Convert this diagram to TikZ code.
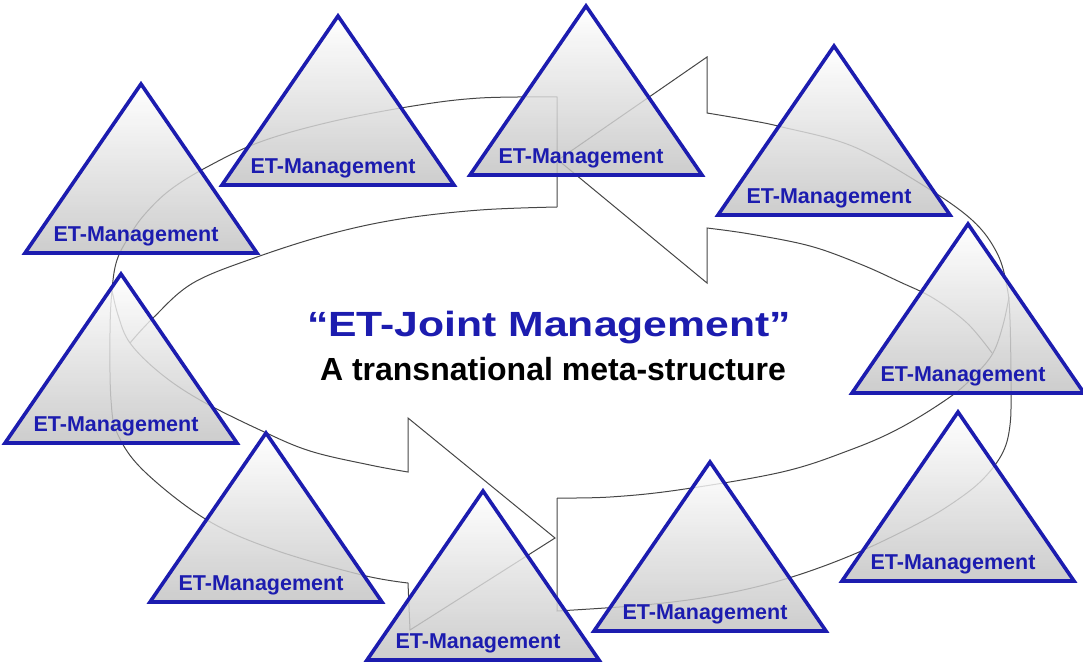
\documentclass[tikz,border=0pt]{standalone}
\usepackage{fontspec}
\usepackage{graphicx}
\setmainfont{Liberation Sans}

\definecolor{etblue}{RGB}{28,28,175}
\definecolor{ringgray}{RGB}{70,70,70}

\tikzset{
  ring/.style={draw=ringgray,line width=1pt,line join=miter},
  tri/.style={draw=etblue,line width=3.6pt,line join=miter,
    top color=white,bottom color=black!24,fill opacity=0.82},
  trilabel/.style={anchor=base,inner sep=0pt,text=etblue,
    font=\fontsize{21.5}{24}\selectfont\bfseries},
}

\begin{document}
\begin{tikzpicture}[x=1pt,y=-1pt]
  \useasboundingbox (0,0) rectangle (1083,666);

  % right arrow: tail at the bottom, head at the top pointing left
  \draw[ring] (557,498) -- (557,611)
    -- plot[smooth,tension=0.6] coordinates {(557,611) (644,605) (713,596) (782,580) (852,555) (921,522) (960,498) (985,477) (1003,452) (1010,425) (1011,387) (1010,320) (1007,287) (997,253) (972,220) (921,184) (852,146) (782,127) (748,120) (707,113)}
    -- (707,57) -- (558,160) -- (707,283) -- (707,228)
    -- plot[smooth,tension=0.6] coordinates {(707,228) (750,234) (810,246) (860,264) (900,282) (933,298) (967,323) (992,353)};
  \draw[ring] plot[smooth,tension=0.6] coordinates {(1009,297) (1003,325) (993,353) (975,375) (950,397) (900,428) (850,450) (782,472) (678,490) (610,497) (557,498)};

  % left arrow: tail at the top, head at the bottom pointing right
  \draw[ring] (557,207) -- (557,97)
    -- plot[smooth,tension=0.6] coordinates {(557,97) (480,98) (413,106) (330,122) (260,142) (207,167) (170,190) (145,214) (130,235) (117,260) (112,290) (110,333) (111,400) (118,435) (145,472) (207,520) (275,550) (362,575) (408,583)}
    -- (410,630) -- (555,538) -- (408,418) -- (408,472)
    -- plot[smooth,tension=0.6] coordinates {(408,472) (370,465) (310,451) (260,430) (200,400) (160,373) (130,343) (118,315) (112,290)};
  \draw[ring] plot[smooth,tension=0.6] coordinates {(557,207) (480,210) (400,219) (330,234) (257,257) (193,283) (153,318) (130,343)};

  % the ten management triangles: number/centre x/base y
  \foreach \i/\x/\y in {1/141/253, 2/338/185, 3/586/175, 4/834/215, 5/968/393,
                        6/958/581, 7/710/631, 8/483/660, 9/266/602, 10/121/443} {
    \draw[tri] (\x-116,\y) -- (\x,\y-169) -- (\x+116,\y) -- cycle;
    \node[trilabel] (mgmt\i) at (\x-5,\y-12) {ET-Management};
  }

  \node[anchor=base,inner sep=0pt,text=etblue] (title) at (549,336)
    {\fontsize{35}{40}\selectfont\bfseries\scalebox{1.22}[1]{“ET-Joint Management”}};
  \node[anchor=base,inner sep=0pt] (subtitle) at (553,380)
    {\fontsize{32}{36}\selectfont\bfseries A transnational meta-structure};
\end{tikzpicture}
\end{document}
